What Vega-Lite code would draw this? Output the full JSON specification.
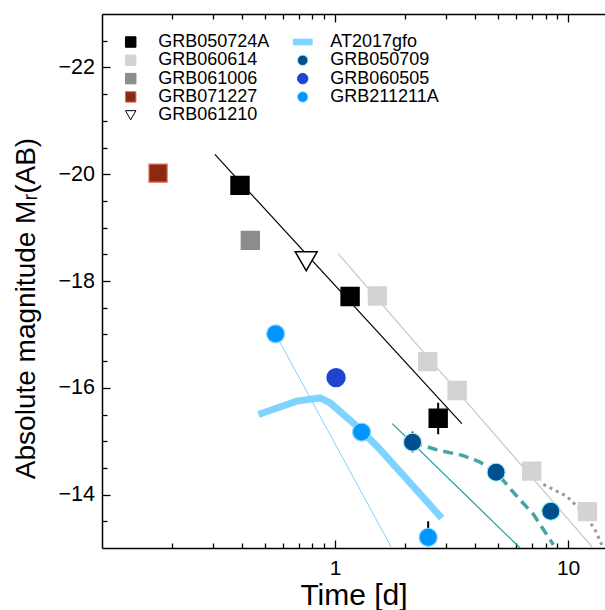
{
  "$schema": "https://vega.github.io/schema/vega-lite/v6.json",
  "width": 503,
  "height": 534,
  "autosize": "none",
  "padding": {"left": 102, "top": 14, "right": 0, "bottom": 62},
  "background": "white",
  "config": {
    "view": {"stroke": null},
    "font": "Liberation Sans",
    "axis": {"grid": false, "domainColor": "black", "tickColor": "black", "labelColor": "black", "titleColor": "black", "labelFont": "Liberation Sans", "titleFont": "Liberation Sans", "titleFontWeight": "normal", "domainWidth": 1.5, "tickWidth": 1.3}
  },
  "datasets": {
    "points": [
      {"series": "GRB071227", "t": 0.174, "M": -20.02},
      {"series": "GRB050724A", "t": 0.391, "M": -19.79},
      {"series": "GRB050724A", "t": 1.16, "M": -17.71},
      {"series": "GRB050724A", "t": 2.77, "M": -15.43},
      {"series": "GRB061006", "t": 0.433, "M": -18.76},
      {"series": "GRB061210", "t": 0.752, "M": -18.37},
      {"series": "GRB060614", "t": 1.52, "M": -17.72},
      {"series": "GRB060614", "t": 2.50, "M": -16.49},
      {"series": "GRB060614", "t": 3.34, "M": -15.95},
      {"series": "GRB060614", "t": 6.98, "M": -14.44},
      {"series": "GRB060614", "t": 12.1, "M": -13.68},
      {"series": "GRB060505", "t": 1.01, "M": -16.19},
      {"series": "GRB211211A", "t": 0.556, "M": -17.01},
      {"series": "GRB211211A", "t": 1.30, "M": -15.17},
      {"series": "GRB211211A", "t": 2.51, "M": -13.2},
      {"series": "GRB050709", "t": 2.15, "M": -14.98},
      {"series": "GRB050709", "t": 4.91, "M": -14.42},
      {"series": "GRB050709", "t": 8.43, "M": -13.69}
    ],
    "errors": [
      {"t": 2.77, "lo": -15.72, "hi": -15.13},
      {"t": 2.15, "lo": -15.18, "hi": -14.79},
      {"t": 2.51, "lo": -13.5, "hi": -13.2}
    ],
    "lines": [
      {"line": "fitA", "t": 0.305, "M": -20.37},
      {"line": "fitA", "t": 3.50, "M": -15.33},
      {"line": "fitB", "t": 1.033, "M": -18.51},
      {"line": "fitB", "t": 12.8, "M": -13.0},
      {"line": "fitC", "t": 0.556, "M": -17.0},
      {"line": "fitC", "t": 1.75, "M": -13.0},
      {"line": "fitD", "t": 1.76, "M": -15.33},
      {"line": "fitD", "t": 6.22, "M": -13.0},
      {"line": "dotted", "t": 7.83, "M": -14.19},
      {"line": "dotted", "t": 9.87, "M": -13.97},
      {"line": "dotted", "t": 11.63, "M": -13.66},
      {"line": "dotted", "t": 13.06, "M": -13.34},
      {"line": "dotted", "t": 13.95, "M": -13.06},
      {"line": "AT2017gfo", "t": 0.469, "M": -15.50},
      {"line": "AT2017gfo", "t": 0.685, "M": -15.75},
      {"line": "AT2017gfo", "t": 0.862, "M": -15.81},
      {"line": "AT2017gfo", "t": 0.952, "M": -15.72},
      {"line": "AT2017gfo", "t": 1.198, "M": -15.34},
      {"line": "AT2017gfo", "t": 1.51, "M": -14.91},
      {"line": "AT2017gfo", "t": 1.90, "M": -14.43},
      {"line": "AT2017gfo", "t": 2.87, "M": -13.56},
      {"line": "dashed", "t": 2.15, "M": -14.98},
      {"line": "dashed", "t": 2.73, "M": -14.84},
      {"line": "dashed", "t": 3.55, "M": -14.73},
      {"line": "dashed", "t": 4.19, "M": -14.61},
      {"line": "dashed", "t": 4.91, "M": -14.42},
      {"line": "dashed", "t": 6.02, "M": -13.97},
      {"line": "dashed", "t": 7.10, "M": -13.63},
      {"line": "dashed", "t": 8.65, "M": -13.06}
    ]
  },
  "layer": [
    {
      "data": {"name": "lines"},
      "transform": [{"filter": "datum.line === 'fitA'"}],
      "mark": {"type": "line", "color": "black", "strokeWidth": 1.2, "clip": true},
      "encoding": {
        "x": {"field": "t", "type": "quantitative", "scale": {"type": "log", "domain": [0.1, 14.4], "nice": false},
          "axis": {"orient": "bottom", "values": [1, 10], "format": "~g", "ticks": false, "labelFontSize": 21, "labelPadding": 9, "title": "Time [d]", "titleFontSize": 30, "titlePadding": 2, "domain": true, "labelFlush": false, "labelOverlap": false}},
        "y": {"field": "M", "type": "quantitative", "scale": {"domain": [-23, -13], "reverse": true, "nice": false, "zero": false},
          "axis": {"orient": "left", "values": [-22, -20, -18, -16, -14], "labelExpr": "'−' + format(abs(datum.value), 'd')", "ticks": false, "labelFontSize": 21.5, "labelPadding": 7.5, "title": "Absolute magnitude  Mᵣ(AB)", "titleFontSize": 28, "titlePadding": 18, "titleY": 294, "domain": true, "labelFlush": false, "labelOverlap": false}}
      }
    },
    {
      "data": {"name": "lines"},
      "transform": [{"filter": "datum.line === 'fitB'"}],
      "mark": {"type": "line", "color": "#c8c8c8", "strokeWidth": 1.2, "clip": true},
      "encoding": {
        "x": {"field": "t", "type": "quantitative", "axis": {"orient": "bottom", "values": [1, 10], "tickSize": -8, "labels": false, "domain": false, "title": null}},
        "y": {"field": "M", "type": "quantitative", "axis": {"orient": "left", "values": [-22, -20, -18, -16, -14], "tickSize": -8, "labels": false, "domain": false, "title": null}}
      }
    },
    {
      "data": {"name": "lines"},
      "transform": [{"filter": "datum.line === 'fitC'"}],
      "mark": {"type": "line", "color": "#7fd4ff", "strokeWidth": 1, "clip": true},
      "encoding": {
        "x": {"field": "t", "type": "quantitative", "axis": {"orient": "bottom", "values": [0.2, 0.3, 0.4, 0.5, 0.6, 0.7, 0.8, 0.9, 2, 3, 4, 5, 6, 7, 8, 9], "tickSize": -5, "labels": false, "domain": false, "title": null}},
        "y": {"field": "M", "type": "quantitative", "axis": {"orient": "left", "values": [-22.5, -21.5, -21, -20.5, -19.5, -19, -18.5, -17.5, -17, -16.5, -15.5, -15, -14.5, -13.5], "tickSize": -5, "labels": false, "domain": false, "title": null}}
      }
    },
    {
      "data": {"name": "lines"},
      "transform": [{"filter": "datum.line === 'fitD'"}],
      "mark": {"type": "line", "color": "#1a9a9a", "strokeWidth": 1.2, "clip": true},
      "encoding": {
        "x": {"field": "t", "type": "quantitative", "axis": {"orient": "top", "values": [1, 10], "tickSize": -8, "labels": false, "domain": true, "title": null}},
        "y": {"field": "M", "type": "quantitative", "axis": null}
      }
    },
    {
      "data": {"name": "lines"},
      "transform": [{"filter": "datum.line === 'dotted'"}],
      "mark": {"type": "line", "color": "#999999", "strokeWidth": 3, "strokeDash": [3, 4], "clip": true},
      "encoding": {
        "x": {"field": "t", "type": "quantitative", "axis": {"orient": "top", "values": [0.2, 0.3, 0.4, 0.5, 0.6, 0.7, 0.8, 0.9, 2, 3, 4, 5, 6, 7, 8, 9], "tickSize": -5, "labels": false, "domain": false, "title": null}},
        "y": {"field": "M", "type": "quantitative", "axis": null}
      }
    },
    {
      "data": {"name": "lines"},
      "transform": [{"filter": "datum.line === 'AT2017gfo'"}],
      "mark": {"type": "line", "color": "#7fd4ff", "strokeWidth": 7, "strokeCap": "butt", "clip": true},
      "encoding": {
        "x": {"field": "t", "type": "quantitative", "axis": null},
        "y": {"field": "M", "type": "quantitative", "axis": null}
      }
    },
    {
      "data": {"name": "lines"},
      "transform": [{"filter": "datum.line === 'dashed'"}],
      "mark": {"type": "line", "color": "#45a5a5", "strokeWidth": 3.5, "strokeDash": [10, 6], "clip": true},
      "encoding": {
        "x": {"field": "t", "type": "quantitative", "axis": null},
        "y": {"field": "M", "type": "quantitative", "axis": null}
      }
    },
    {
      "data": {"name": "errors"},
      "mark": {"type": "rule", "color": "black", "strokeWidth": 2},
      "encoding": {
        "x": {"field": "t", "type": "quantitative", "axis": null},
        "y": {"field": "lo", "type": "quantitative", "axis": null},
        "y2": {"field": "hi"}
      }
    },
    {
      "data": {"name": "points"},
      "transform": [{"filter": "datum.series !== 'GRB061210'"}],
      "mark": {"type": "point", "filled": true, "opacity": 1, "size": 330, "strokeWidth": 1.2},
      "encoding": {
        "x": {"field": "t", "type": "quantitative", "axis": null},
        "y": {"field": "M", "type": "quantitative", "axis": null},
        "fill": {"field": "series", "type": "nominal",
          "scale": {"domain": ["GRB050724A", "GRB060614", "GRB061006", "GRB071227", "GRB061210", "AT2017gfo", "GRB050709", "GRB060505", "GRB211211A"],
                    "range": ["#000000", "#d3d3d3", "#8c8c8c", "#8b2a14", "#ffffff", "#7fd4ff", "#00508f", "#1f44d0", "#0096ff"]},
          "legend": {"title": null, "orient": "none", "legendX": 19.7, "legendY": 19, "columns": 2, "columnPadding": 21, "rowPadding": 0.3, "labelFontSize": 18, "labelFont": "Liberation Sans", "labelColor": "black", "labelOffset": 18.6, "symbolSize": 110, "symbolStrokeWidth": 1, "labelLimit": 0, "padding": 0, "symbolOpacity": 1}},
        "stroke": {"field": "series", "type": "nominal",
          "scale": {"domain": ["GRB050724A", "GRB060614", "GRB061006", "GRB071227", "GRB061210", "AT2017gfo", "GRB050709", "GRB060505", "GRB211211A"],
                    "range": ["#000000", "#d3d3d3", "#8c8c8c", "#e0705a", "#000000", "#7fd4ff", "#a8f0f0", "#1f44d0", "#8fd4ff"]},
          "legend": {"title": null, "orient": "none", "legendX": 19.7, "legendY": 19, "columns": 2, "columnPadding": 21, "rowPadding": 0.3, "labelFontSize": 18, "labelFont": "Liberation Sans", "labelColor": "black", "labelOffset": 18.6, "symbolSize": 110, "symbolStrokeWidth": 1, "labelLimit": 0, "padding": 0, "symbolOpacity": 1}},
        "shape": {"field": "series", "type": "nominal",
          "scale": {"domain": ["GRB050724A", "GRB060614", "GRB061006", "GRB071227", "GRB061210", "AT2017gfo", "GRB050709", "GRB060505", "GRB211211A"],
                    "range": ["square", "square", "square", "square", "triangle-down", "M-1.8,-0.55H1.8V0.55H-1.8Z", "circle", "circle", "circle"]},
          "legend": {"title": null, "orient": "none", "legendX": 19.7, "legendY": 19, "columns": 2, "columnPadding": 21, "rowPadding": 0.3, "labelFontSize": 18, "labelFont": "Liberation Sans", "labelColor": "black", "labelOffset": 18.6, "symbolSize": 110, "symbolStrokeWidth": 1, "labelLimit": 0, "padding": 0, "symbolOpacity": 1}}
      }
    },
    {
      "data": {"name": "points"},
      "transform": [{"filter": "datum.series === 'GRB061210'"}],
      "mark": {"type": "point", "filled": true, "opacity": 1, "size": 480, "strokeWidth": 1.5},
      "encoding": {
        "x": {"field": "t", "type": "quantitative", "axis": null},
        "y": {"field": "M", "type": "quantitative", "axis": null},
        "fill": {"field": "series", "type": "nominal"},
        "stroke": {"field": "series", "type": "nominal"},
        "shape": {"field": "series", "type": "nominal"}
      }
    }
  ],
  "resolve": {"axis": {"x": "independent", "y": "independent"}}
}
